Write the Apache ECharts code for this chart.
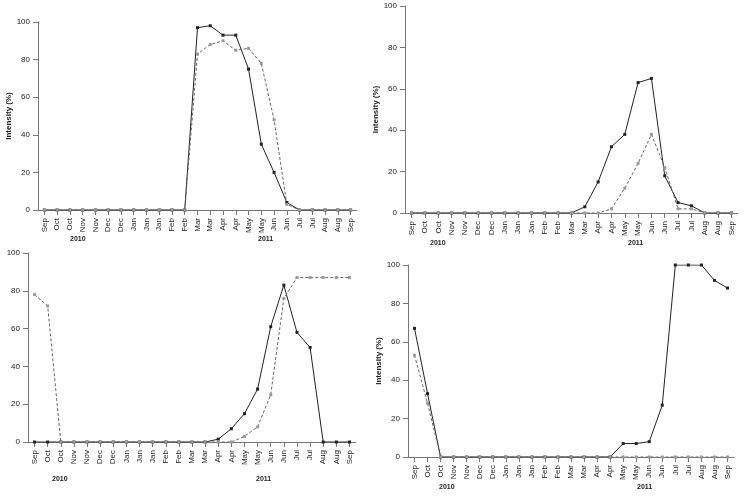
<!DOCTYPE html><html><head><meta charset="utf-8"><script src="https://cdn.jsdelivr.net/npm/echarts@6/dist/echarts.min.js"></script></head><body style="margin:0"><div id="c" style="width:750px;height:499px"></div><script>
const months=['Sep','Oct','Oct','Nov','Nov','Dec','Dec','Jan','Jan','Jan','Feb','Feb','Mar','Mar','Apr','Apr','May','May','Jun','Jun','Jul','Jul','Aug','Aug','Sep'];
const yTicks=[0,20,40,60,80,100];
const p1Solid=[0,0,0,0,0,0,0,0,0,0,0,0,97,98,93,93,75,35,20,4,0,0,0,0,0];
const p1Dash=[0,0,0,0,0,0,0,0,0,0,0,0,83,88,90,85,86,78,48,3,0,0,0,0,0];
const p2Solid=[0,0,0,0,0,0,0,0,0,0,0,0,0,3,15,32,38,63,65,18,5,3.5,0,0,0];
const p2Dash=[0,0,0,0,0,0,0,0,0,0,0,0,0,0,0,2,12,24,38,22,2,2,0,0,0];
const p3Solid=[0,0,0,0,0,0,0,0,0,0,0,0,0,0,1.5,7,15,28,61,83,58,50,0,0,0];
const p3Dash=[78,72,0,0,0,0,0,0,0,0,0,0,0,0,0,0,3,8,25,76,87,87,87,87,87];
const p4Solid=[67,33,0,0,0,0,0,0,0,0,0,0,0,0,0,0,7,7,8,27,100,100,100,92,88];
const p4Dash=[53,28,0,0,0,0,0,0,0,0,0,0,0,0,0,0,0,0,0,0,0,0,0,0,0];
const grids=[{left:38,width:319,top:22,height:188},{left:405,width:333,top:6,height:207},{left:28,width:328,top:253,height:189},{left:408,width:326,top:265,height:192}];
const names=['Intensity (%)','Intensity (%)','','Intensity (%)'];
const data=[[p1Solid,p1Dash],[p2Solid,p2Dash],[p3Solid,p3Dash],[p4Solid,p4Dash]];
const ax={lineStyle:{color:'#777'}};
const opt={animation:false,grid:grids,xAxis:[],yAxis:[],series:[],graphic:[]};
grids.forEach((g,i)=>{
 opt.xAxis.push({type:'category',gridIndex:i,data:months,boundaryGap:true,axisLine:ax,axisTick:{show:true,alignWithLabel:true,lineStyle:{color:'#777'}},axisLabel:{rotate:90,fontSize:8,color:'#222',interval:0,fontFamily:'Liberation Sans'}});
 opt.yAxis.push({type:'value',gridIndex:i,min:0,max:100,interval:20,splitLine:{show:false},axisLine:{show:true,lineStyle:{color:'#777'}},axisTick:{show:true,lineStyle:{color:'#777'}},axisLabel:{fontSize:8,color:'#222'},name:names[i],nameLocation:'middle',nameGap:22,nameTextStyle:{fontSize:8,fontWeight:'bold',color:'#222'}});
 opt.series.push({type:'line',xAxisIndex:i,yAxisIndex:i,data:data[i][0],symbol:'rect',symbolSize:3,lineStyle:{color:'#222',width:1},itemStyle:{color:'#222'}});
 opt.series.push({type:'line',xAxisIndex:i,yAxisIndex:i,data:data[i][1],symbol:'rect',symbolSize:3,lineStyle:{color:'#666',width:1,type:[3,2]},itemStyle:{color:'#999'}});
});
const yrs=[[70,236],[258,236],[430,240],[628,240],[52,476],[256,476],[439,484],[637,484]];
yrs.forEach((p,k)=>opt.graphic.push({type:'text',left:p[0],top:p[1],style:{text:k%2?'2011':'2010',fontSize:7,fontWeight:'bold',fill:'#222'}}));
echarts.init(document.getElementById('c')).setOption(opt);
</script></body></html>
